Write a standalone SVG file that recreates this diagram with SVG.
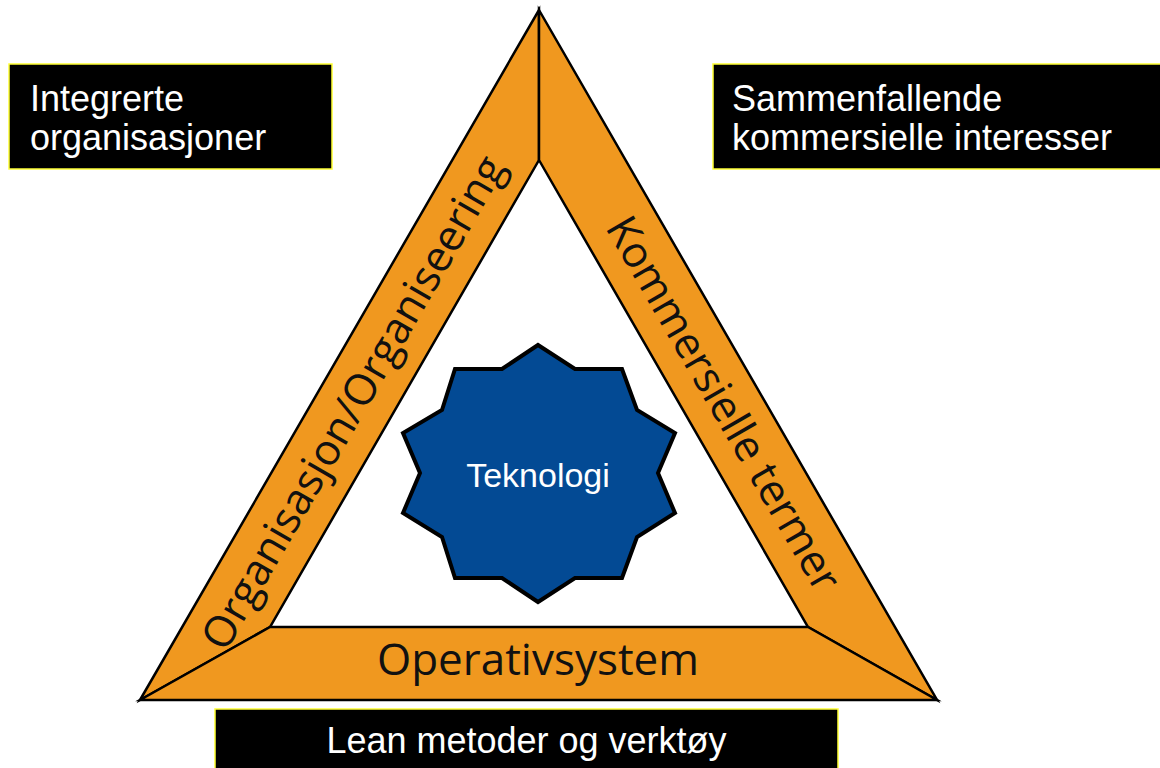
<svg xmlns="http://www.w3.org/2000/svg" width="1160" height="768" viewBox="0 0 1160 768">
  <defs>
    <style>
      .band { fill: #F0981F; stroke: #000; stroke-width: 2.5; stroke-linejoin: miter; }
      .band-label { font-family: "Open Sans", "DejaVu Sans", sans-serif; font-size: 43px; fill: #111; text-anchor: middle; }
      .box { fill: #000; stroke: #FFFF33; stroke-width: 1.5; }
      .box-text { font-family: "Liberation Sans", Arial, sans-serif; font-size: 36px; fill: #fff; }
      .star { fill: #034A94; stroke: #000; stroke-width: 4; stroke-linejoin: miter; }
      .star-text { font-family: "Liberation Sans", Arial, sans-serif; font-size: 34px; fill: #fff; text-anchor: middle; }
    </style>
  </defs>
  <rect width="1160" height="768" fill="#fff"/>

  <g id="triangle">
    <g id="band-left">
      <polygon class="band" points="140,700 539,10 539,160 270,627"/>
      <text class="band-label" transform="translate(366,410) rotate(-60)">Organisasjon/Organiseering</text>
    </g>
    <g id="band-right">
      <polygon class="band" points="539,10 937,700 808,627 539,160"/>
      <text class="band-label" transform="translate(711,411) rotate(60)">Kommersielle termer</text>
    </g>
    <g id="band-bottom">
      <polygon class="band" points="140,700 270,627 808,627 937,700"/>
      <text class="band-label" x="538" y="675" style="font-size:44px">Operativsystem</text>
    </g>
  </g>

  <g id="teknologi">
    <polygon class="star" points="538,345 575,369 622,369 637,410 675,433 658,473 675,513 637,537 622,578 575,578 538,602 502,578 455,578 442,537 403,513 420,473 403,433 442,410 455,369 502,369"/>
    <text class="star-text" x="538" y="487">Teknologi</text>
  </g>

  <g id="box-integrerte">
    <rect class="box" x="9" y="64" width="323" height="105"/>
    <text class="box-text" x="30" y="111">Integrerte</text>
    <text class="box-text" x="30" y="150">organisasjoner</text>
  </g>

  <g id="box-sammenfallende">
    <rect class="box" x="713" y="64" width="460" height="105"/>
    <text class="box-text" x="732" y="111">Sammenfallende</text>
    <text class="box-text" x="732" y="150">kommersielle interesser</text>
  </g>

  <g id="box-lean">
    <rect class="box" x="215" y="709" width="623" height="70"/>
    <text class="box-text" x="526.5" y="753" text-anchor="middle">Lean metoder og verktøy</text>
  </g>

  <g id="connectors"/>
</svg>
